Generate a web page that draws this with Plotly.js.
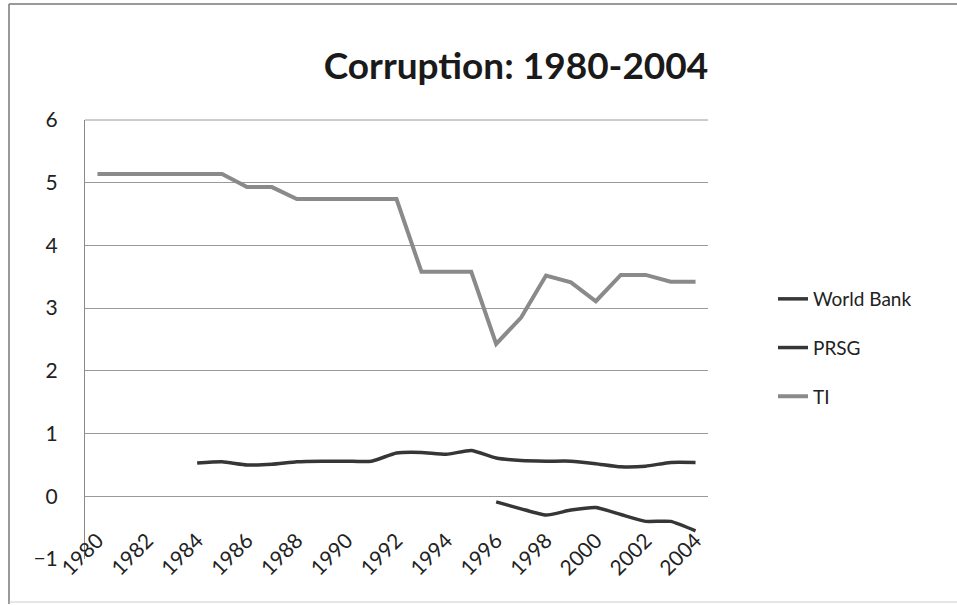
<!DOCTYPE html>
<html>
<head>
<meta charset="utf-8">
<script src="https://cdn.plot.ly/plotly-3.0.1.min.js"></script>
<style>html,body{margin:0;padding:0;background:#fff;}#chart{width:957px;height:605px;}</style>
</head>
<body>
<div id="chart"></div>
<script>
// ---- data ----
const years = [1980,1981,1982,1983,1984,1985,1986,1987,1988,1989,1990,1991,1992,1993,1994,1995,1996,1997,1998,1999,2000,2001,2002,2003,2004];
const worldBank = [null,null,null,null,null,null,null,null,null,null,null,null,null,null,null,null,-0.09,-0.20,-0.30,-0.22,-0.18,-0.29,-0.40,-0.40,-0.55];
const prsg = [null,null,null,null,0.53,0.55,0.50,0.51,0.55,0.56,0.56,0.56,0.69,0.70,0.67,0.73,0.61,0.57,0.56,0.56,0.52,0.47,0.48,0.54,0.54];
const ti = [5.14,5.14,5.14,5.14,5.14,5.14,4.93,4.93,4.74,4.74,4.74,4.74,4.74,3.58,3.58,3.58,2.43,2.85,3.52,3.41,3.11,3.53,3.53,3.42,3.42];
const seriesNames = ['World Bank','PRSG','TI'];
const titleText = 'Corruption: 1980-2004';

// ---- geometry ----
const W = 957, H = 605;
const M = {l: 85, r: 249, t: 120, b: 46};
const pw = W - M.l - M.r, ph = H - M.t - M.b;
const px2x = p => (p - M.l) / pw;
const px2y = p => (H - M.b - p) / ph;
const FONT = 'Lato, "Open Sans", sans-serif';
const yMin = -1, yMax = 6;

const traces = [
  {x: years, y: worldBank, name: seriesNames[0], type: 'scatter', mode: 'lines', legendgroup: 'a',
   line: {color: '#363636', width: 3.5, shape: 'spline', smoothing: 0.5}},
  {x: years, y: prsg, name: seriesNames[1], type: 'scatter', mode: 'lines', legendgroup: 'b',
   line: {color: '#363636', width: 3.5, shape: 'spline', smoothing: 0.5}},
  {x: years, y: ti, name: seriesNames[2], type: 'scatter', mode: 'lines', legendgroup: 'c',
   line: {color: '#8a8a8a', width: 4}}
];

const layout = {
  width: W, height: H,
  margin: M,
  paper_bgcolor: '#fff', plot_bgcolor: '#fff',
  font: {family: FONT, color: '#222', size: 19},
  title: {text: titleText, font: {family: FONT, size: 37, color: '#1a1a1a', weight: 'bold'},
          xref: 'paper', x: px2x(516), xanchor: 'center', yref: 'container', y: 1 - 66 / H, yanchor: 'middle'},
  showlegend: true,
  legend: {x: px2x(773), xanchor: 'left', y: px2y(348), yanchor: 'middle', font: {size: 19, family: FONT, color: '#222'},
           tracegroupgap: 21, bgcolor: 'rgba(0,0,0,0)', traceorder: 'grouped'},
  xaxis: {range: [1979.5, 2004.5], tick0: 1980, dtick: 2, tickangle: -45, anchor: 'free',
          position: (0 - yMin) / (yMax - yMin), showgrid: false, zeroline: false, showline: false,
          ticks: '', ticklabelstandoff: 27, tickfont: {size: 21, family: FONT, color: '#222'}},
  yaxis: {range: [yMin, yMax], dtick: 1, showgrid: true, gridcolor: '#9a9a9a', gridwidth: 1,
          zeroline: false, showline: true, linecolor: '#8a8a8a', linewidth: 1, ticks: '',
          ticklabelstandoff: 22, tickfont: {size: 21, family: FONT, color: '#222'}},
  shapes: [
    {type: 'line', xref: 'paper', yref: 'paper', x0: px2x(9), x1: px2x(9), y0: px2y(4), y1: px2y(604),
     line: {color: '#777', width: 1.5}},
    {type: 'line', xref: 'paper', yref: 'paper', x0: px2x(9), x1: px2x(957), y0: px2y(4), y1: px2y(4),
     line: {color: '#777', width: 1.5}},
    {type: 'line', xref: 'paper', yref: 'paper', x0: px2x(9), x1: px2x(957), y0: px2y(602), y1: px2y(602),
     line: {color: '#ccc', width: 1}},
    {type: 'line', xref: 'paper', yref: 'paper', x0: 0, x1: 1, y0: 1, y1: 1, layer: 'below',
     line: {color: '#9a9a9a', width: 1}}
  ]
};

Plotly.newPlot('chart', traces, layout, {displayModeBar: false, staticPlot: true});
</script>
</body>
</html>
